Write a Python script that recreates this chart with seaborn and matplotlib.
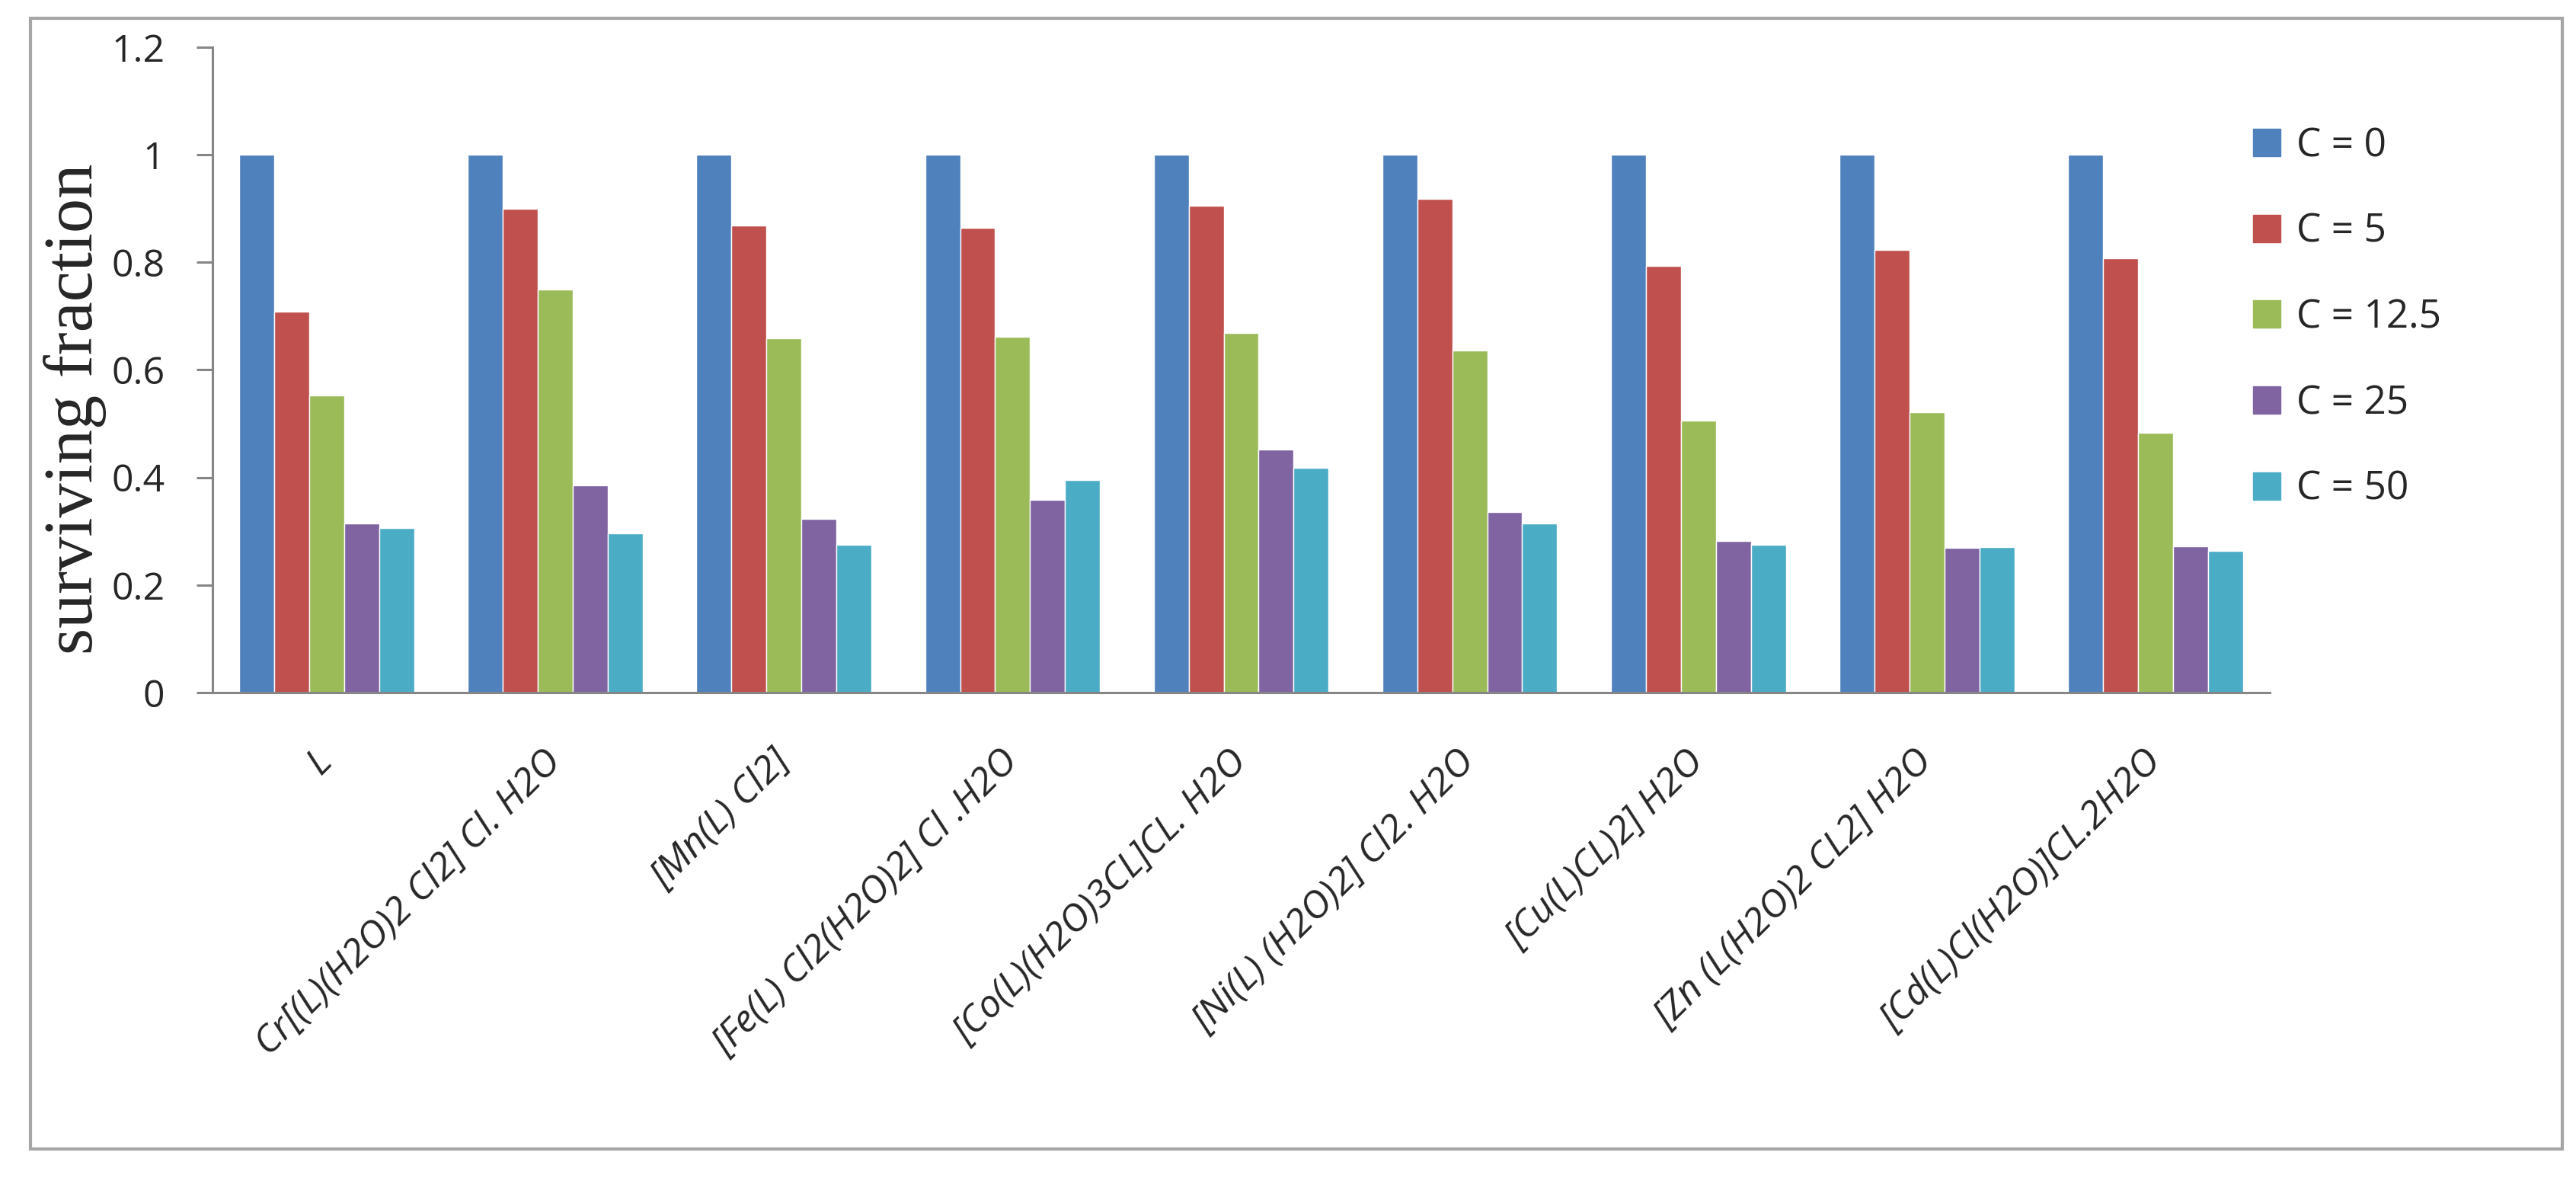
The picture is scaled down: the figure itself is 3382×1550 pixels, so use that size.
import pandas as pd
import numpy as np
import matplotlib.pyplot as plt
import seaborn as sns

# surviving fraction per compound, one list per concentration
compounds = ['L', 'Cr[(L)(H2O)2 Cl2] Cl. H2O', '[Mn(L) Cl2]', '[Fe(L) Cl2(H2O)2] Cl .H2O',
             '[Co(L)(H2O)3CL]CL. H2O', '[Ni(L) (H2O)2] Cl2. H2O', '[Cu(L)CL)2] H2O',
             '[Zn (L(H2O)2 CL2] H2O', '[Cd(L)Cl(H2O)]CL.2H2O']
conc_labels = ['C = 0', 'C = 5', 'C = 12.5', 'C = 25', 'C = 50']
c0 = [1, 1, 1, 1, 1, 1, 1, 1, 1]
c5 = [0.708, 0.899, 0.868, 0.864, 0.906, 0.918, 0.793, 0.823, 0.807]
c12 = [0.552, 0.749, 0.659, 0.661, 0.669, 0.636, 0.506, 0.521, 0.483]
c25 = [0.315, 0.385, 0.323, 0.358, 0.452, 0.336, 0.282, 0.269, 0.272]
c50 = [0.306, 0.296, 0.275, 0.395, 0.418, 0.314, 0.275, 0.270, 0.263]
yticks = [0, 0.2, 0.4, 0.6, 0.8, 1, 1.2]
ytick_labels = ['0', '0.2', '0.4', '0.6', '0.8', '1', '1.2']

colors = ['#4F81BD', '#C0504D', '#9BBB59', '#8064A2', '#4BACC6']
grey = '#868686'

rows = []
for lab, vals in zip(conc_labels, [c0, c5, c12, c25, c50]):
    for comp, v in zip(compounds, vals):
        rows.append({'compound': comp, 'conc': lab, 'value': v})
df = pd.DataFrame(rows)

sns.set_style('white')
plt.rcParams['font.family'] = ['Open Sans', 'DejaVu Sans']

fig = plt.figure(figsize=(33.82, 15.5), dpi=100)
ax = fig.add_axes([279 / 3382, 1 - 909 / 1550, (2980 - 279) / 3382, (909 - 62) / 1550])

sns.barplot(data=df, x='compound', y='value', hue='conc', order=compounds, hue_order=conc_labels,
            palette=colors, saturation=1, width=0.765, ax=ax, legend=False)

ax.set_xlim(-0.5, 8.5)
ax.set_ylim(0, 1.2)
ax.set_yticks(yticks)
ax.set_yticklabels(ytick_labels, fontsize=36)
ax.set_xticks(range(len(compounds)))
ax.set_xticklabels(compounds, rotation=45, ha='right', va='center', rotation_mode='anchor',
                   fontsize=36, style='italic')
ax.set_xticks(np.arange(-0.5, len(compounds)), minor=True)
ax.tick_params(axis='x', which='major', length=0, pad=60)
ax.tick_params(axis='x', which='minor', length=16, width=2.2, color=grey, direction='out')
ax.tick_params(axis='y', length=15, width=2.2, color=grey, pad=30, left=True, direction='out')

for s in ['top', 'right']:
    ax.spines[s].set_visible(False)
for s in ['left', 'bottom']:
    ax.spines[s].set_color(grey)
    ax.spines[s].set_linewidth(2.2)

ax.set_xlabel('')
ax.set_ylabel('surviving fraction', fontsize=65, family='Liberation Serif')
ax.yaxis.set_label_coords(-0.0515, 0.44)

handles = [plt.Rectangle((0, 0), 1, 1, color=c) for c in colors]
fig.legend(handles, conc_labels, loc='upper left', bbox_to_anchor=(2958 / 3382, 1 - 166 / 1550),
           frameon=False, fontsize=37, handlelength=0.7, handleheight=0.7, handletextpad=0.4,
           labelspacing=1.2, borderpad=0, borderaxespad=0)

fig.patches.append(plt.Rectangle((40 / 3382, 1 - 1508 / 1550), (3364 - 40) / 3382, (1508 - 24) / 1550,
                                 transform=fig.transFigure, fill=False, ec='#a6a6a6', lw=3))

plt.savefig('out.png', dpi=100, facecolor='white')
